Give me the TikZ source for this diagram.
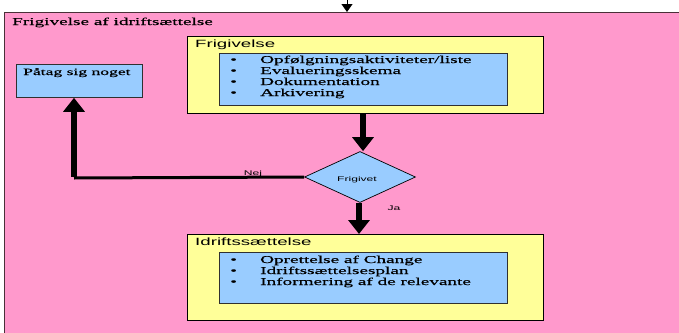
\documentclass[tikz,border=0pt]{standalone}
\usepackage{fontspec}
\setmainfont{Liberation Serif}
\newfontfamily\wideserif[FakeStretch=1.83,FakeBold=0.4]{Liberation Serif}
\newfontfamily\widesans[FakeStretch=1.78]{Liberation Sans}
\usetikzlibrary{shapes.geometric,arrows.meta}

\definecolor{pinkbg}{HTML}{FF99CC}
\definecolor{yelbox}{HTML}{FFFF99}
\definecolor{bluebox}{HTML}{99CCFF}
\definecolor{framecol}{HTML}{4A3038}
\definecolor{edgecol}{HTML}{303030}

\tikzset{
  panel/.style={draw=framecol, line width=1.2pt, fill=pinkbg, anchor=north west, inner sep=0pt},
  phase/.style={draw=black, line width=0.9pt, fill=yelbox, anchor=north west, inner sep=0pt},
  listbox/.style={draw=edgecol, line width=0.8pt, fill=bluebox, anchor=north west, inner sep=0pt},
  decision/.style={diamond, draw=black, line width=0.7pt, fill=bluebox, inner sep=0pt},
  lbl/.style={inner sep=0pt, anchor=base west},
  seriftext/.style={lbl, font=\wideserif\fontsize{10.5}{11}\selectfont},
  sanshead/.style={lbl, font=\widesans\fontsize{10.5}{11}\selectfont},
  smalllbl/.style={inner sep=0pt, anchor=base, font=\widesans\fontsize{6.8}{8}\selectfont},
  flow/.style={line width=6pt, -{Triangle[width=21pt,length=14pt]}},
  thinflow/.style={line width=3pt},
}
\newcommand{\bul}[1]{\makebox[30pt][l]{\textbullet}#1}

\begin{document}
\begin{tikzpicture}[x=1pt,y=-1pt]
  \useasboundingbox (0,0) rectangle (679,332);
  \clip (0,0) rectangle (679,332);

  % outer container
  \node[panel, minimum width=720pt, minimum height=340pt] (outer) at (4,12) {};
  \node[seriftext] (title) at (12,25) {Frigivelse af idriftsættelse};

  % incoming arrow from above
  \coordinate (entry) at (347,0);
  \draw[line width=1pt, -{Triangle[width=11pt,length=8pt]}] (entry) -- (entry |- outer.north);

  % release phase
  \node[phase, minimum width=356pt, minimum height=77pt] (rel) at (187,36) {};
  \node[sanshead] (relhead) at (195,47) {Frigivelse};
  \node[listbox, minimum width=288pt, minimum height=52pt] (rellist) at (219,53) {};
  \node[seriftext] (r1) at (230,63) {\bul{Opfølgningsaktiviteter/liste}};
  \node[seriftext] (r2) at (230,74) {\bul{Evalueringsskema}};
  \node[seriftext] (r3) at (230,85) {\bul{Dokumentation}};
  \node[seriftext] (r4) at (230,96) {\bul{Arkivering}};

  % decision
  \node[decision, minimum width=111pt, minimum height=51pt] (dec) at (360,177) {};
  \node[smalllbl] (dectext) at (357,181) {Frigivet};

  % take action box
  \node[listbox, minimum width=126pt, minimum height=33pt] (act) at (16,64) {};
  \node[lbl, font=\wideserif\fontsize{9.6}{11}\selectfont] (acttext) at (23,75) {Påtag sig noget};

  % deployment phase
  \node[phase, minimum width=356pt, minimum height=86pt] (dep) at (187,234) {};
  \node[sanshead] (dephead) at (195,245) {Idriftssættelse};
  \node[listbox, minimum width=288pt, minimum height=51pt] (deplist) at (219,252) {};
  \node[seriftext] (d1) at (230,263) {\bul{Oprettelse af Change}};
  \node[seriftext] (d2) at (230,274) {\bul{Idriftssættelsesplan}};
  \node[seriftext] (d3) at (230,285) {\bul{Informering af de relevante}};

  % connectors
  \draw[flow] ([xshift=3pt]dec.north |- rel.south) -- ([xshift=3pt]dec.north);
  \draw[flow] ([xshift=-1pt]dec.south) -- ([xshift=-1pt]dec.south |- dep.north);
  \coordinate (corner) at (74,178);
  \draw[thinflow] (dec.west) -- (corner);
  \draw[flow] ([yshift=1.5pt]corner) -- (corner |- act.south);

  % branch labels
  \node[smalllbl] (nej) at (253,175) {Nej};
  \node[smalllbl] (ja) at (394,210) {Ja};
\end{tikzpicture}
\end{document}
